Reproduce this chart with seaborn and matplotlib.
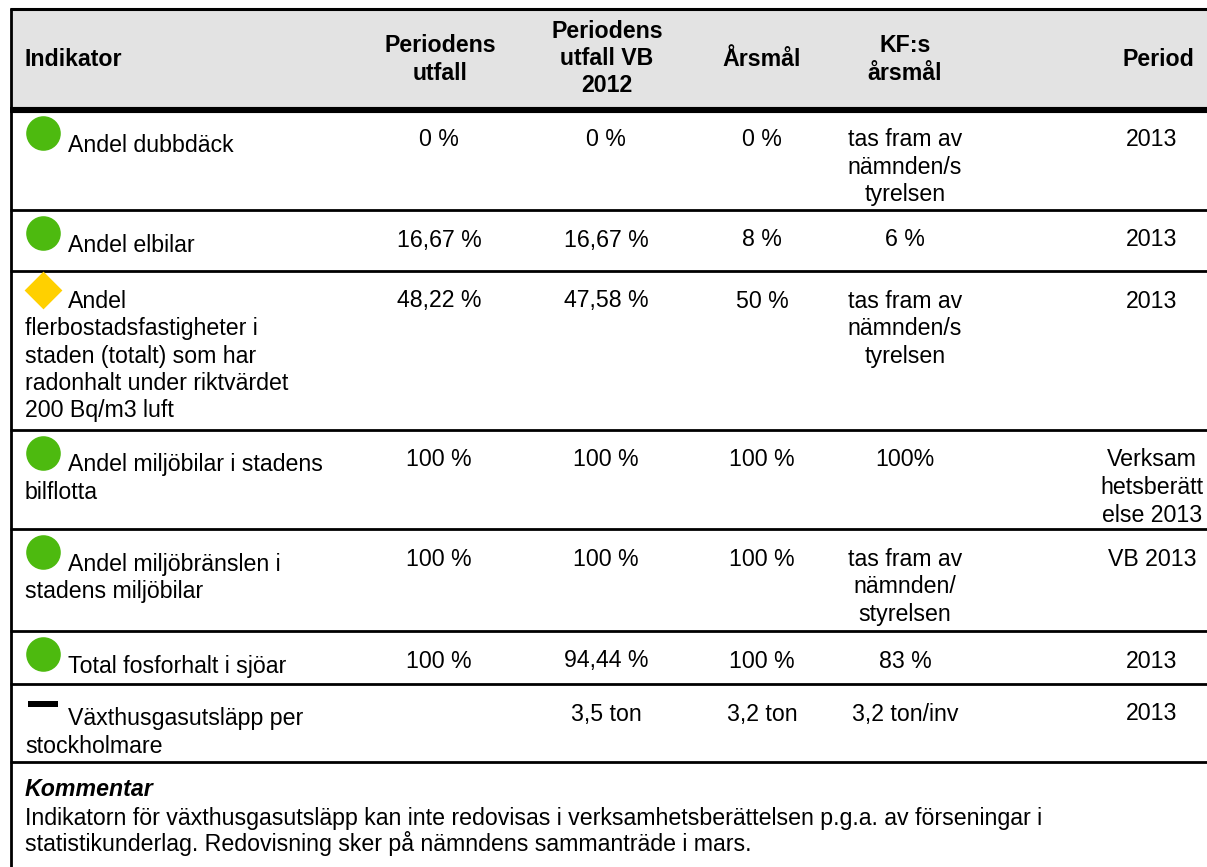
import matplotlib
matplotlib.use("Agg")
import matplotlib.pyplot as plt
import seaborn as sns
import pandas as pd

# ---------------- data ----------------
headers = ["Indikator", "Periodens\nutfall", "Periodens\nutfall VB\n2012", "Årsmål", "KF:s\nårsmål", "Period"]
indicators = [
    "Andel dubbdäck",
    "Andel elbilar",
    "Andel\nflerbostadsfastigheter i\nstaden (totalt) som har\nradonhalt under riktvärdet\n200 Bq/m3 luft",
    "Andel miljöbilar i stadens\nbilflotta",
    "Andel miljöbränslen i\nstadens miljöbilar",
    "Total fosforhalt i sjöar",
    "Växthusgasutsläpp per\nstockholmare",
]
status = ["green", "green", "yellow", "green", "green", "green", "none"]
utfall = ["0 %", "16,67 %", "48,22 %", "100 %", "100 %", "100 %", ""]
utfall_vb2012 = ["0 %", "16,67 %", "47,58 %", "100 %", "100 %", "94,44 %", "3,5 ton"]
arsmal = ["0 %", "8 %", "50 %", "100 %", "100 %", "100 %", "3,2 ton"]
kf_arsmal = ["tas fram av\nnämnden/s\ntyrelsen", "6 %", "tas fram av\nnämnden/s\ntyrelsen", "100%",
             "tas fram av\nnämnden/\nstyrelsen", "83 %", "3,2 ton/inv"]
period = ["2013", "2013", "2013", "Verksam\nhetsberätt\nelse 2013", "VB 2013", "2013", "2013"]
comment_title = "Kommentar"
comment_text = ["Indikatorn för växthusgasutsläpp kan inte redovisas i verksamhetsberättelsen p.g.a. av förseningar i",
                "statistikunderlag. Redovisning sker på nämndens sammanträde i mars."]

# ---------------- layout ----------------
W, H = 1207, 867
FONT = "Liberation Sans"
FS = 16.7
LS = 27.5          # line step in px
row_edges = [110, 210, 271, 430, 529, 631, 684, 762]
col_x = [25, 439, 606, 762, 905, 1152]
header_x = [25, 440, 607, 762, 905, 1158]

sns.set_theme(style="white")
plt.rcParams["font.family"] = [FONT, "DejaVu Sans"]
plt.rcParams["text.color"] = "black"

fig = plt.figure(figsize=(W / 100, H / 100), dpi=100)
ax = fig.add_axes([0, 0, 1, 1])
ax.set_xlim(0, W)
ax.set_ylim(H, 0)
ax.axis("off")

# header background
ax.fill_between([11, W], 9, 110, color="#E3E3E3", zorder=0, lw=0)

# lines
ax.plot([10, W], [9, 9], color="black", lw=2.2, solid_capstyle="butt")
ax.plot([10, W], [110, 110], color="black", lw=4.4, solid_capstyle="butt")
for y in row_edges[1:]:
    ax.plot([10, W], [y, y], color="black", lw=2.0, solid_capstyle="butt")
ax.plot([11, 11], [8, H], color="black", lw=2.0, solid_capstyle="butt")


def put_lines(x, y_center_first, text, ha, weight="normal", style="normal", first_x=None):
    for i, line in enumerate(text.split("\n")):
        xx = first_x if (i == 0 and first_x is not None) else x
        ax.text(xx, y_center_first + i * LS + 8.5, line, ha=ha, va="baseline",
                fontsize=FS, fontweight=weight, fontstyle=style, color="black")


# header texts
header_first = [58, 44, 29, 57, 44, 58]
for j, h in enumerate(headers):
    put_lines(header_x[j], header_first[j], h, "left" if j == 0 else "center", weight="bold")

# body texts
cols = [utfall, utfall_vb2012, arsmal, kf_arsmal, period]
for i in range(len(indicators)):
    top = row_edges[i]
    off = 28 if status[i] == "yellow" else 33
    put_lines(25, top + off, indicators[i], "left", first_x=68)
    for j, col in enumerate(cols):
        if col[i]:
            put_lines(col_x[j + 1], top + 28, col[i], "center")

# status icons via seaborn
icons = pd.DataFrame({
    "x": [43] * len(status),
    "y": [row_edges[i] + (19 if status[i] == "yellow" else 20 if status[i] == "none" else 23)
          for i in range(len(status))],
    "status": status,
})
sns.scatterplot(data=icons[icons.status == "green"], x="x", y="y", color="#4DBA0F",
                marker="o", s=620, linewidth=0, ax=ax, zorder=3)
sns.scatterplot(data=icons[icons.status == "yellow"], x="x", y="y", color="#FFD000",
                marker="D", s=370, linewidth=0, ax=ax, zorder=3)
bar = [(-1, -0.22), (1, -0.22), (1, 0.22), (-1, 0.22)]
sns.scatterplot(data=icons[icons.status == "none"], x="x", y="y", color="black",
                marker=bar, s=470, linewidth=0, ax=ax, zorder=3)
ax.set_xlim(0, W)
ax.set_ylim(H, 0)
ax.axis("off")

# comment
ax.text(25, 787 + 8.5, comment_title, ha="left", va="baseline", fontsize=FS,
        fontweight="bold", fontstyle="italic", color="black")
for k, line in enumerate(comment_text):
    ax.text(25, 817 + k * 26 + 8.5, line, ha="left", va="baseline", fontsize=FS, color="black")

fig.savefig("out.png", dpi=100)
